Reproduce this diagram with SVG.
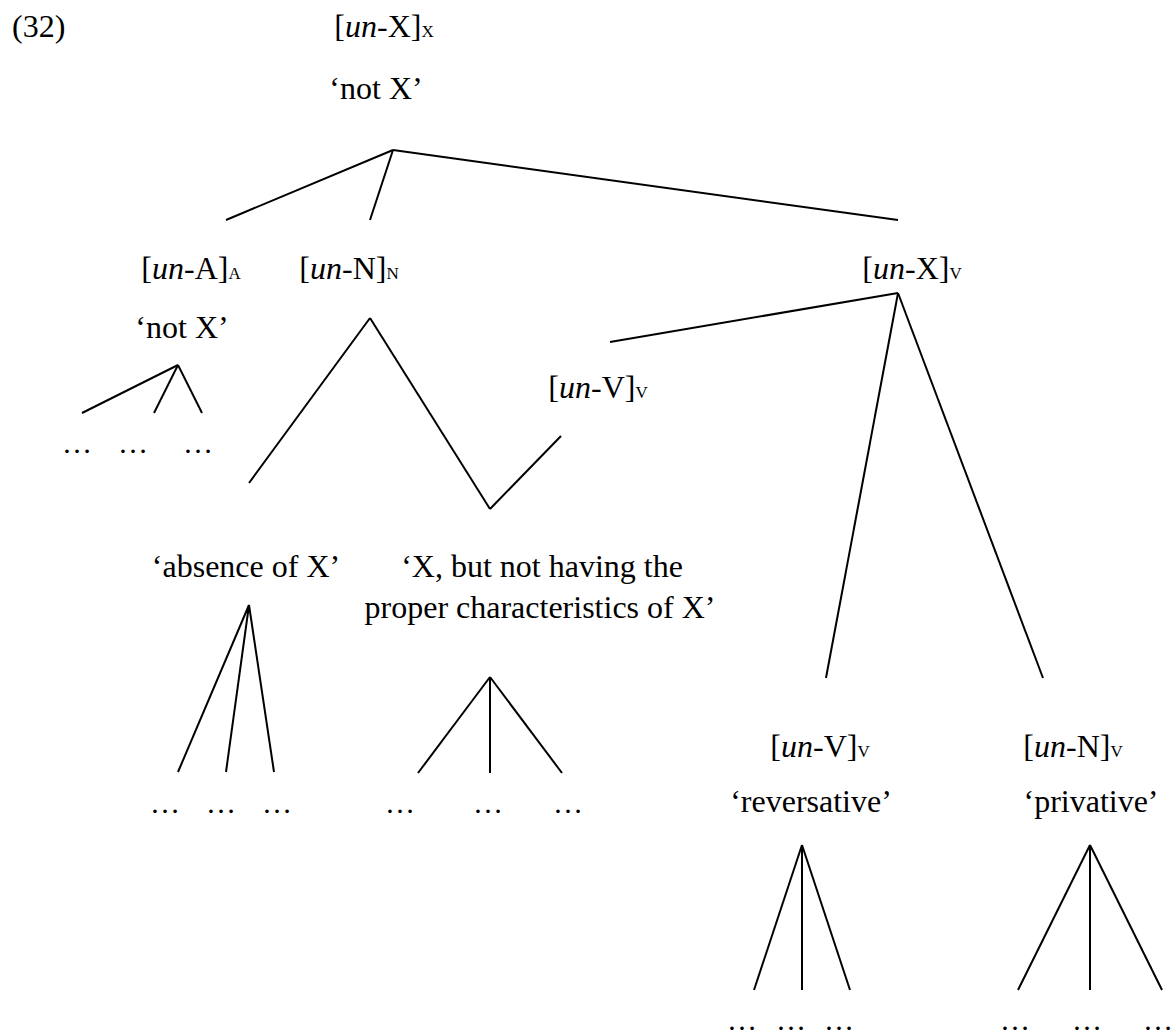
<svg xmlns="http://www.w3.org/2000/svg" width="1176" height="1035" viewBox="0 0 1176 1035">
<style>
text{font-family:"Liberation Serif","Times New Roman",serif;font-size:32px;fill:#000;text-anchor:middle}
.i{font-style:italic}
.s{font-size:17px}
.l{text-anchor:start}
.e{font-size:30px}
line{stroke:#000;stroke-width:2;stroke-linecap:butt}
</style>
<rect width="1176" height="1035" fill="#fff"/>
<g id="label-32"><text class="l" x="12" y="37">(32)</text></g>
<g id="node-unX-X"><text x="384" y="37">[<tspan class="i">un</tspan>-X]<tspan class="s">X</tspan></text><text x="376" y="99">‘not X’</text></g>
<g id="node-unA-A"><text x="191" y="279">[<tspan class="i">un</tspan>-A]<tspan class="s">A</tspan></text><text x="182" y="338">‘not X’</text></g>
<g id="node-unN-N"><text x="349" y="279">[<tspan class="i">un</tspan>-N]<tspan class="s">N</tspan></text></g>
<g id="node-unX-V"><text x="912" y="279">[<tspan class="i">un</tspan>-X]<tspan class="s">V</tspan></text></g>
<g id="node-unV-V-mid"><text x="598" y="398">[<tspan class="i">un</tspan>-V]<tspan class="s">V</tspan></text></g>
<g id="node-absence"><text x="246" y="577">‘absence of X’</text></g>
<g id="node-proper"><text x="542" y="577">‘X, but not having the</text><text x="540" y="618">proper characteristics of X’</text></g>
<g id="node-unV-V"><text x="820" y="757">[<tspan class="i">un</tspan>-V]<tspan class="s">V</tspan></text><text x="811" y="812">‘reversative’</text></g>
<g id="node-unN-V"><text x="1073" y="757">[<tspan class="i">un</tspan>-N]<tspan class="s">V</tspan></text><text x="1091" y="812">‘privative’</text></g>
<g id="dots">
<text class="e" x="77" y="453">…</text><text class="e" x="133" y="453">…</text><text class="e" x="198" y="453">…</text>
<text class="e" x="165" y="813">…</text><text class="e" x="221" y="813">…</text><text class="e" x="277" y="813">…</text>
<text class="e" x="400" y="813">…</text><text class="e" x="488" y="813">…</text><text class="e" x="568" y="813">…</text>
<text class="e" x="742" y="1030">…</text><text class="e" x="791" y="1030">…</text><text class="e" x="839" y="1030">…</text>
<text class="e" x="1015" y="1030">…</text><text class="e" x="1087" y="1030">…</text><text class="e" x="1158" y="1030">…</text>
</g>
<g id="connectors">
<line x1="393" y1="150" x2="226" y2="220"/>
<line x1="393" y1="150" x2="370" y2="220"/>
<line x1="393" y1="150" x2="898" y2="220"/>
<line x1="178" y1="365" x2="82" y2="413"/>
<line x1="178" y1="365" x2="154" y2="413"/>
<line x1="178" y1="365" x2="202" y2="413"/>
<line x1="370" y1="318" x2="249" y2="483"/>
<line x1="370" y1="318" x2="490" y2="509"/>
<line x1="490" y1="509" x2="561" y2="436"/>
<line x1="898" y1="293" x2="610" y2="342"/>
<line x1="898" y1="293" x2="826" y2="678"/>
<line x1="898" y1="293" x2="1043" y2="678"/>
<line x1="249" y1="605" x2="178" y2="772"/>
<line x1="249" y1="605" x2="226" y2="772"/>
<line x1="249" y1="605" x2="274" y2="772"/>
<line x1="490" y1="677" x2="418" y2="773"/>
<line x1="490" y1="677" x2="490" y2="773"/>
<line x1="490" y1="677" x2="562" y2="773"/>
<line x1="802" y1="845" x2="754" y2="990"/>
<line x1="802" y1="845" x2="802" y2="990"/>
<line x1="802" y1="845" x2="850" y2="990"/>
<line x1="1090" y1="845" x2="1018" y2="990"/>
<line x1="1090" y1="845" x2="1090" y2="990"/>
<line x1="1090" y1="845" x2="1162" y2="990"/>
</g>
</svg>
